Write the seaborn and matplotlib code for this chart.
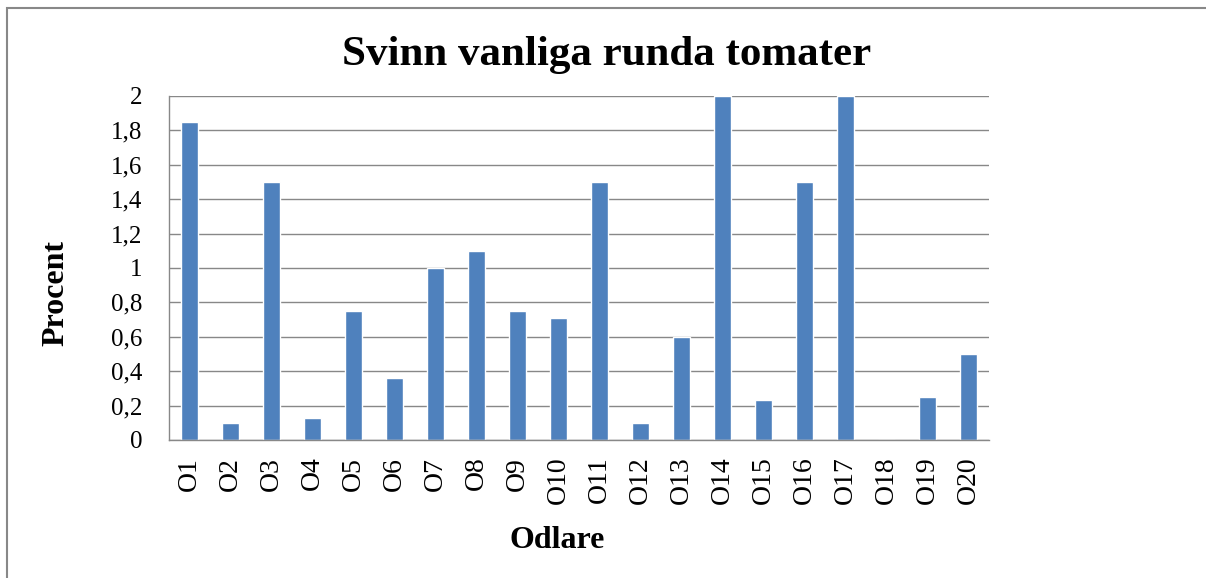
import numpy as np
import matplotlib
matplotlib.use("Agg")
import matplotlib.pyplot as plt
import seaborn as sns
from matplotlib.patches import Rectangle
from matplotlib.ticker import FuncFormatter

# data
odlare = ["O%d" % i for i in range(1, 21)]
procent = [1.85, 0.10, 1.50, 0.13, 0.75, 0.36, 1.00, 1.10, 0.75, 0.71,
           1.50, 0.10, 0.60, 2.00, 0.23, 1.50, 2.00, 0.00, 0.25, 0.50]

sns.set_style("white")
plt.rcParams["font.family"] = ["Liberation Serif", "DejaVu Serif"]
plt.rcParams["text.color"] = "black"
plt.rcParams["axes.labelcolor"] = "black"
plt.rcParams["xtick.labelcolor"] = "black"
plt.rcParams["ytick.labelcolor"] = "black"

fig = plt.figure(figsize=(12.06, 5.78), dpi=100)
ax = fig.add_axes([169 / 1206, 1 - 440 / 578, (989 - 169) / 1206, (440 - 96) / 578])

sns.barplot(x=odlare, y=procent, color="#4F81BD", saturation=1, width=0.4, ax=ax)

ax.set_ylim(0, 2)
ax.set_xlim(-0.5, 19.5)
ax.set_yticks(np.arange(0, 2.01, 0.2))
ax.yaxis.set_major_formatter(FuncFormatter(lambda v, p: ("%g" % round(v, 1)).replace(".", ",")))
ax.grid(axis="y", color="#888888", lw=1)
ax.set_axisbelow(True)

# tick marks between categories
ax.set_xticks(np.arange(20))
ax.set_xticks(np.arange(-0.5, 20, 1), minor=True)
ax.tick_params(axis="x", which="major", length=0, labelsize=20, rotation=90, pad=12)
ax.tick_params(axis="x", which="minor", length=8, color="#888888", width=1, direction="out")
ax.tick_params(axis="y", length=9, color="#888888", width=1, direction="out", labelsize=18, pad=10)
for s in ["top", "right"]:
    ax.spines[s].set_visible(False)
for s in ["left", "bottom"]:
    ax.spines[s].set_color("#888888")
    ax.spines[s].set_linewidth(1)

ax.set_ylabel("Procent", fontsize=23, fontweight="bold", va="center")
ax.yaxis.set_label_coords((56 - 169) / 820, (440 - 293) / 344)
ax.set_xlabel("Odlare", fontsize=23, fontweight="bold", va="center")
ax.xaxis.set_label_coords((557 - 169) / 820, (440 - 540) / 344)
fig.text(607 / 1206, 1 - 55 / 578, "Svinn vanliga runda tomater", ha="center", va="center",
         fontsize=31, fontweight="bold")

# chart border
fig.patches.append(Rectangle((7 / 1206, -0.1), 1.2, 1.1 - 8 / 578, transform=fig.transFigure,
                             fill=False, edgecolor="#888888", lw=1.5))

fig.savefig("out.png", dpi=100)
